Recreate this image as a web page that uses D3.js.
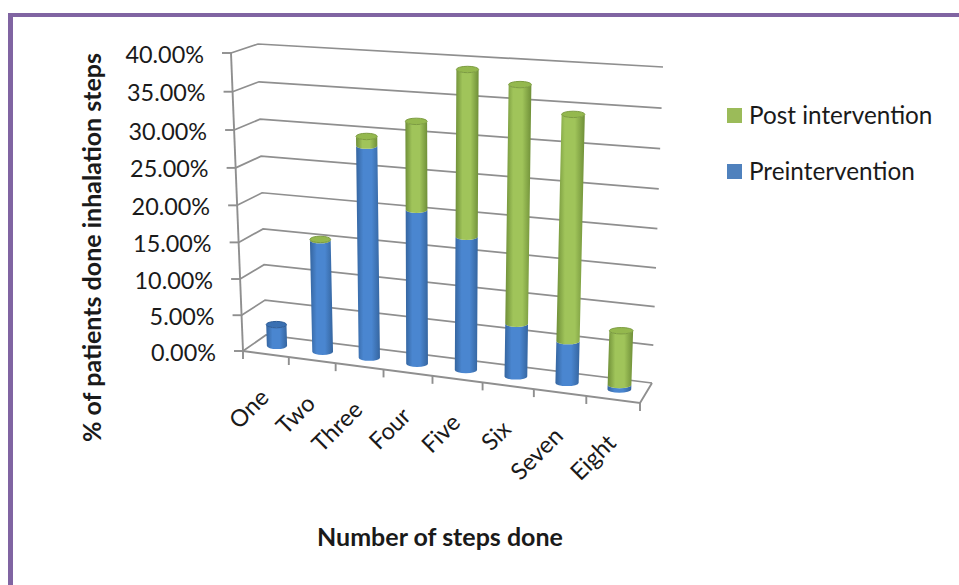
<!DOCTYPE html>
<html>
<head>
<meta charset="utf-8">
<script src="https://cdn.jsdelivr.net/npm/d3@7"></script>
<style>
  html, body { margin: 0; padding: 0; background: #fff; }
  svg { display: block; }
  text { font-family: Lato, "Open Sans", sans-serif; fill: #1a1a1a; }
</style>
</head>
<body>
<svg id="chart" width="959" height="585"></svg>
<script>
// Percentage of patients by number of inhalation steps completed
const categories = ["One", "Two", "Three", "Four", "Five", "Six", "Seven", "Eight"];
const preIntervention = [3, 15.4, 28.6, 20.8, 17.9, 7.1, 5.6, 0.6];
const postIntervention = [0, 0.1, 1.2, 11.5, 21.5, 30.9, 29.2, 7.2];
const valueTicks = [0, 5, 10, 15, 20, 25, 30, 35, 40];
const seriesNames = ["Post intervention", "Preintervention"];
const seriesColors = { pre: ["#35659f", "#4a86d0"], post: ["#6f8f38", "#a0c45a"] };

const svg = d3.select("#chart");
const W = 959, H = 585;

// Page frame along the top and left edges
svg.append("rect").attr("x", 8).attr("y", 13).attr("width", W - 8).attr("height", 4).attr("fill", "#8064a2");
svg.append("rect").attr("x", 8).attr("y", 13).attr("width", 5).attr("height", H - 13).attr("fill", "#8064a2");

// Corners of the 3D plot box
const box = {
  fb: [243, 351], ft: [231, 53],   // front-left
  bb: [266, 335], bt: [258, 44],   // back-left
  Bb: [652, 383], Bt: [663, 67],   // back-right
  Fb: [640, 403], Ft: [652, 90]    // front-right
};
const mix = (a, b, t) => [a[0] + (b[0] - a[0]) * t, a[1] + (b[1] - a[1]) * t];
// Foreshortening along the category and height directions
const persp = u => u / (1.095 - 0.095 * u);
const lift = h => h - 0.045 * h * (1 - h);
// Box coordinates (across, depth, height), each 0..1, to screen position
function project(u, d, h) {
  const s = persp(u), t = lift(h);
  const frontB = mix(box.fb, box.Fb, s), frontT = mix(box.ft, box.Ft, s);
  const backB = mix(box.bb, box.Bb, s), backT = mix(box.bt, box.Bt, s);
  return mix(mix(frontB, backB, d), mix(frontT, backT, d), t);
}

const yScale = d3.scaleLinear().domain([0, 40]).range([0, 1]);
const xScale = d3.scaleBand().domain(categories).range([0, 1]);
const gridColor = "#8f8f8f";

// Walls: each value tick runs along the side wall, then the back wall
const grid = svg.append("g").attr("fill", "none").attr("stroke", gridColor).attr("stroke-width", 1.7);
const line = d3.line();
valueTicks.forEach(v => {
  const h = yScale(v);
  grid.append("path").attr("d", line([project(0, 0, h), project(0, 1, h), project(1, 1, h)]));
});

// Floor outline, value axis and tick marks
const axis = svg.append("g").attr("fill", "none").attr("stroke", gridColor).attr("stroke-width", 1.9);
axis.append("path").attr("d", line([project(0, 0, 0), project(1, 0, 0), project(1, 1, 0)]));
axis.append("path").attr("d", line([project(0, 0, 0), project(0, 0, 1)]));
valueTicks.forEach(v => {
  const p = project(0, 0, yScale(v));
  axis.append("path").attr("d", line([[p[0] - 9, p[1]], p]));
});
d3.range(categories.length + 1).forEach(i => {
  const p = project(i / categories.length, 0, 0);
  axis.append("path").attr("d", line([p, [p[0], p[1] + 8]]));
});

// Cylinder shading runs from dark edges to a lighter middle
const defs = svg.append("defs");
Object.entries(seriesColors).forEach(([key, [edge, mid]]) => {
  const g = defs.append("linearGradient").attr("id", "grad-" + key);
  g.append("stop").attr("offset", "0%").attr("stop-color", edge);
  g.append("stop").attr("offset", "30%").attr("stop-color", mid);
  g.append("stop").attr("offset", "65%").attr("stop-color", mid);
  g.append("stop").attr("offset", "100%").attr("stop-color", edge);
});

const ry = 3.2;
function segment(g, key, c0, c1, rx) {
  const d = `M${c0[0] - rx},${c0[1]} A${rx},${ry} 0 0 0 ${c0[0] + rx},${c0[1]} L${c1[0] + rx},${c1[1]} A${rx},${ry} 0 0 1 ${c1[0] - rx},${c1[1]} Z`;
  g.append("path").attr("d", d).attr("fill", `url(#grad-${key})`);
}
function cap(g, c, rx, fill, stroke) {
  g.append("ellipse").attr("cx", c[0]).attr("cy", c[1]).attr("rx", rx).attr("ry", ry)
    .attr("fill", fill).attr("stroke", stroke).attr("stroke-width", 1);
}

// Stacked cylinders, preintervention below and post intervention on top
const bars = svg.append("g");
categories.forEach((name, i) => {
  const u = xScale(name) + xScale.bandwidth() / 2;
  const pre = preIntervention[i], post = postIntervention[i];
  const rx = 10 + 2 * u;
  const base = project(u, 0.5, 0);
  const mid = project(u, 0.5, yScale(pre));
  const top = project(u, 0.5, yScale(pre + post));
  const g = bars.append("g");
  segment(g, "pre", base, mid, rx);
  if (post > 0) {
    segment(g, "post", mid, top, rx);
    cap(g, top, rx, "#94b84e", "#7c9c40");
  } else {
    cap(g, top, rx, "#3a70b2", "#2d5c96");
  }
});

// Value labels follow the slant of the value axis
const valueLabels = svg.append("g").attr("font-size", 23.4).attr("text-anchor", "end");
valueTicks.forEach(v => {
  const p = project(0, 0, yScale(v));
  valueLabels.append("text")
    .attr("x", p[0] - 27)
    .attr("y", p[1] + 9.5)
    .text(d3.format(".2f")(v) + "%");
});

// Category labels, slanted up to the right
const catLabels = svg.append("g").attr("font-size", 23.5).attr("text-anchor", "end");
categories.forEach(name => {
  const p = project(xScale(name) + xScale.bandwidth() / 2, 0, 0);
  catLabels.append("text")
    .attr("transform", `translate(${p[0] + 4.5},${p[1] + 45}) rotate(-45)`)
    .text(name);
});

// Axis titles
svg.append("text").attr("transform", "translate(101,247.5) rotate(-90)")
  .attr("text-anchor", "middle").attr("font-size", 25).attr("font-weight", 700)
  .text("% of patients done inhalation steps");
svg.append("text").attr("x", 440).attr("y", 546)
  .attr("text-anchor", "middle").attr("font-size", 25).attr("font-weight", 700)
  .text("Number of steps done");

// Legend
const legend = svg.append("g");
[["#9bbb59", 115.5], ["#4f81bd", 171.5]].forEach(([color, y], i) => {
  legend.append("rect").attr("x", 727).attr("y", y - 7.5).attr("width", 15).attr("height", 15).attr("fill", color);
  legend.append("text").attr("x", 749).attr("y", y + 8).attr("font-size", 24.3).text(seriesNames[i]);
});
</script>
</body>
</html>
